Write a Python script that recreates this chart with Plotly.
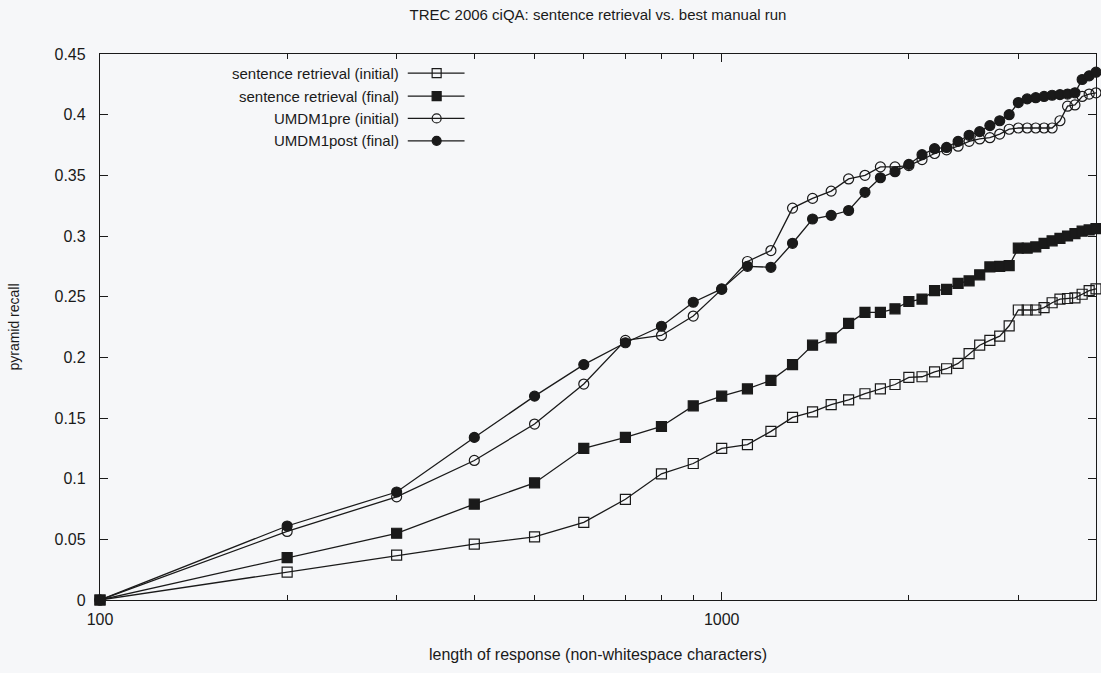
import plotly.graph_objects as go

# response length (non-whitespace characters), 100..4000 in steps of 100
lengths = [100, 200, 300, 400, 500, 600, 700, 800, 900, 1000,
           1100, 1200, 1300, 1400, 1500, 1600, 1700, 1800, 1900, 2000,
           2100, 2200, 2300, 2400, 2500, 2600, 2700, 2800, 2900, 3000,
           3100, 3200, 3300, 3400, 3500, 3600, 3700, 3800, 3900, 4000]

sr_initial = [0, 0.023, 0.037, 0.046, 0.052, 0.064, 0.083, 0.104, 0.1125, 0.125,
              0.128, 0.139, 0.1505, 0.155, 0.161, 0.165, 0.170, 0.174, 0.1776, 0.1835,
              0.184, 0.188, 0.1906, 0.195, 0.203, 0.210, 0.214, 0.2174, 0.226, 0.239,
              0.239, 0.239, 0.241, 0.245, 0.248, 0.2485, 0.249, 0.252, 0.255, 0.2565]

sr_final = [0, 0.035, 0.055, 0.079, 0.0965, 0.125, 0.134, 0.143, 0.160, 0.168,
            0.174, 0.181, 0.194, 0.210, 0.216, 0.228, 0.237, 0.237, 0.240, 0.246,
            0.248, 0.255, 0.256, 0.261, 0.263, 0.268, 0.2745, 0.275, 0.2756, 0.290,
            0.290, 0.291, 0.294, 0.296, 0.298, 0.300, 0.302, 0.304, 0.305, 0.306]

umd_pre = [0, 0.0565, 0.085, 0.115, 0.145, 0.178, 0.214, 0.218, 0.234, 0.256,
           0.279, 0.288, 0.323, 0.331, 0.337, 0.347, 0.350, 0.357, 0.357, 0.358,
           0.363, 0.368, 0.371, 0.374, 0.378, 0.380, 0.381, 0.384, 0.388, 0.389,
           0.389, 0.389, 0.389, 0.389, 0.395, 0.407, 0.408, 0.415, 0.417, 0.418]

umd_post = [0, 0.061, 0.089, 0.134, 0.168, 0.194, 0.212, 0.2256, 0.2454, 0.2564,
            0.275, 0.2742, 0.294, 0.314, 0.317, 0.321, 0.336, 0.348, 0.353, 0.359,
            0.367, 0.372, 0.373, 0.378, 0.383, 0.386, 0.391, 0.395, 0.400, 0.410,
            0.413, 0.414, 0.415, 0.416, 0.4165, 0.417, 0.418, 0.429, 0.432, 0.435]

series_names = ["sentence retrieval (initial)", "sentence retrieval (final)",
                "UMDM1pre (initial)", "UMDM1post (final)"]
series_values = [sr_initial, sr_final, umd_pre, umd_post]
series_symbols = ["square-open", "square", "circle-open", "circle"]

x_tick_vals = [100, 1000]
x_tick_text = ["100", "1000"]
x_minor_vals = [200, 300, 400, 500, 600, 700, 800, 900, 2000, 3000]

INK = "#1a1a1a"
BG = "#f6f7f9"
FONT = "Liberation Sans, Arial, Helvetica, sans-serif"

fig = go.Figure()
for name, vals, sym in zip(series_names, series_values, series_symbols):
    fig.add_trace(go.Scatter(
        x=lengths, y=vals, name=name, mode="lines+markers",
        line=dict(color=INK, width=1.3),
        marker=dict(symbol=sym, size=10, color=INK, line=dict(color=INK, width=1.2)),
        cliponaxis=False, showlegend=False,
    ))

# gnuplot-style key: text right-aligned, sample line + marker to its right
key_rows = [0.965, 0.923, 0.882, 0.841]
for name, sym, yk in zip(series_names, series_symbols, key_rows):
    fig.add_annotation(x=0.302, y=yk, xref="paper", yref="paper", text=name,
                       showarrow=False, xanchor="right", yanchor="middle",
                       font=dict(family=FONT, size=15, color=INK))
    fig.add_shape(type="line", xref="paper", yref="paper",
                  x0=0.309, x1=0.366, y0=yk, y1=yk, line=dict(color=INK, width=1.3))
    kind = "rect" if sym.startswith("square") else "circle"
    fill = "rgba(0,0,0,0)" if sym.endswith("open") else INK
    fig.add_shape(type=kind, xref="paper", yref="paper",
                  xsizemode="pixel", ysizemode="pixel", xanchor=0.338, yanchor=yk,
                  x0=-4.5, x1=4.5, y0=-4.5, y1=4.5,
                  fillcolor=fill, line=dict(color=INK, width=1.2))

fig.update_layout(
    width=1101, height=673,
    paper_bgcolor=BG, plot_bgcolor=BG,
    margin=dict(l=100, r=5, t=54, b=73),
    font=dict(family=FONT, size=15, color=INK),
    title=dict(text="TREC 2006 ciQA: sentence retrieval vs. best manual run",
               x=0.5, xref="paper", xanchor="center", y=0.978, yanchor="middle",
               font=dict(family=FONT, size=15, color=INK)),
)
fig.update_xaxes(
    type="log", range=[2, 3.60206],
    tickmode="array", tickvals=x_tick_vals, ticktext=x_tick_text,
    ticks="inside", ticklen=8, tickwidth=1, tickcolor=INK,
    minor=dict(tickmode="array", tickvals=x_minor_vals, ticks="inside",
               ticklen=5, tickwidth=1, tickcolor=INK),
    showline=True, linecolor=INK, linewidth=1.3, mirror="ticks",
    showgrid=False, zeroline=False, ticklabelstandoff=5,
    title=dict(text="length of response (non-whitespace characters)", standoff=21,
               font=dict(family=FONT, size=16)),
    tickfont=dict(family=FONT, size=16),
)
fig.update_yaxes(
    range=[0, 0.45], dtick=0.05, tick0=0,
    ticks="inside", ticklen=8, tickwidth=1, tickcolor=INK,
    showline=True, linecolor=INK, linewidth=1.3, mirror="ticks",
    showgrid=False, zeroline=False, ticklabelstandoff=10,
    title=dict(text="pyramid recall", standoff=31, font=dict(family=FONT, size=14)),
    tickfont=dict(family=FONT, size=16),
)

# drop the browser's default page margin so the figure sits at the window origin
fig.write_html("out.html", config={"displayModeBar": False},
               post_script="document.body.style.margin='0px';")
